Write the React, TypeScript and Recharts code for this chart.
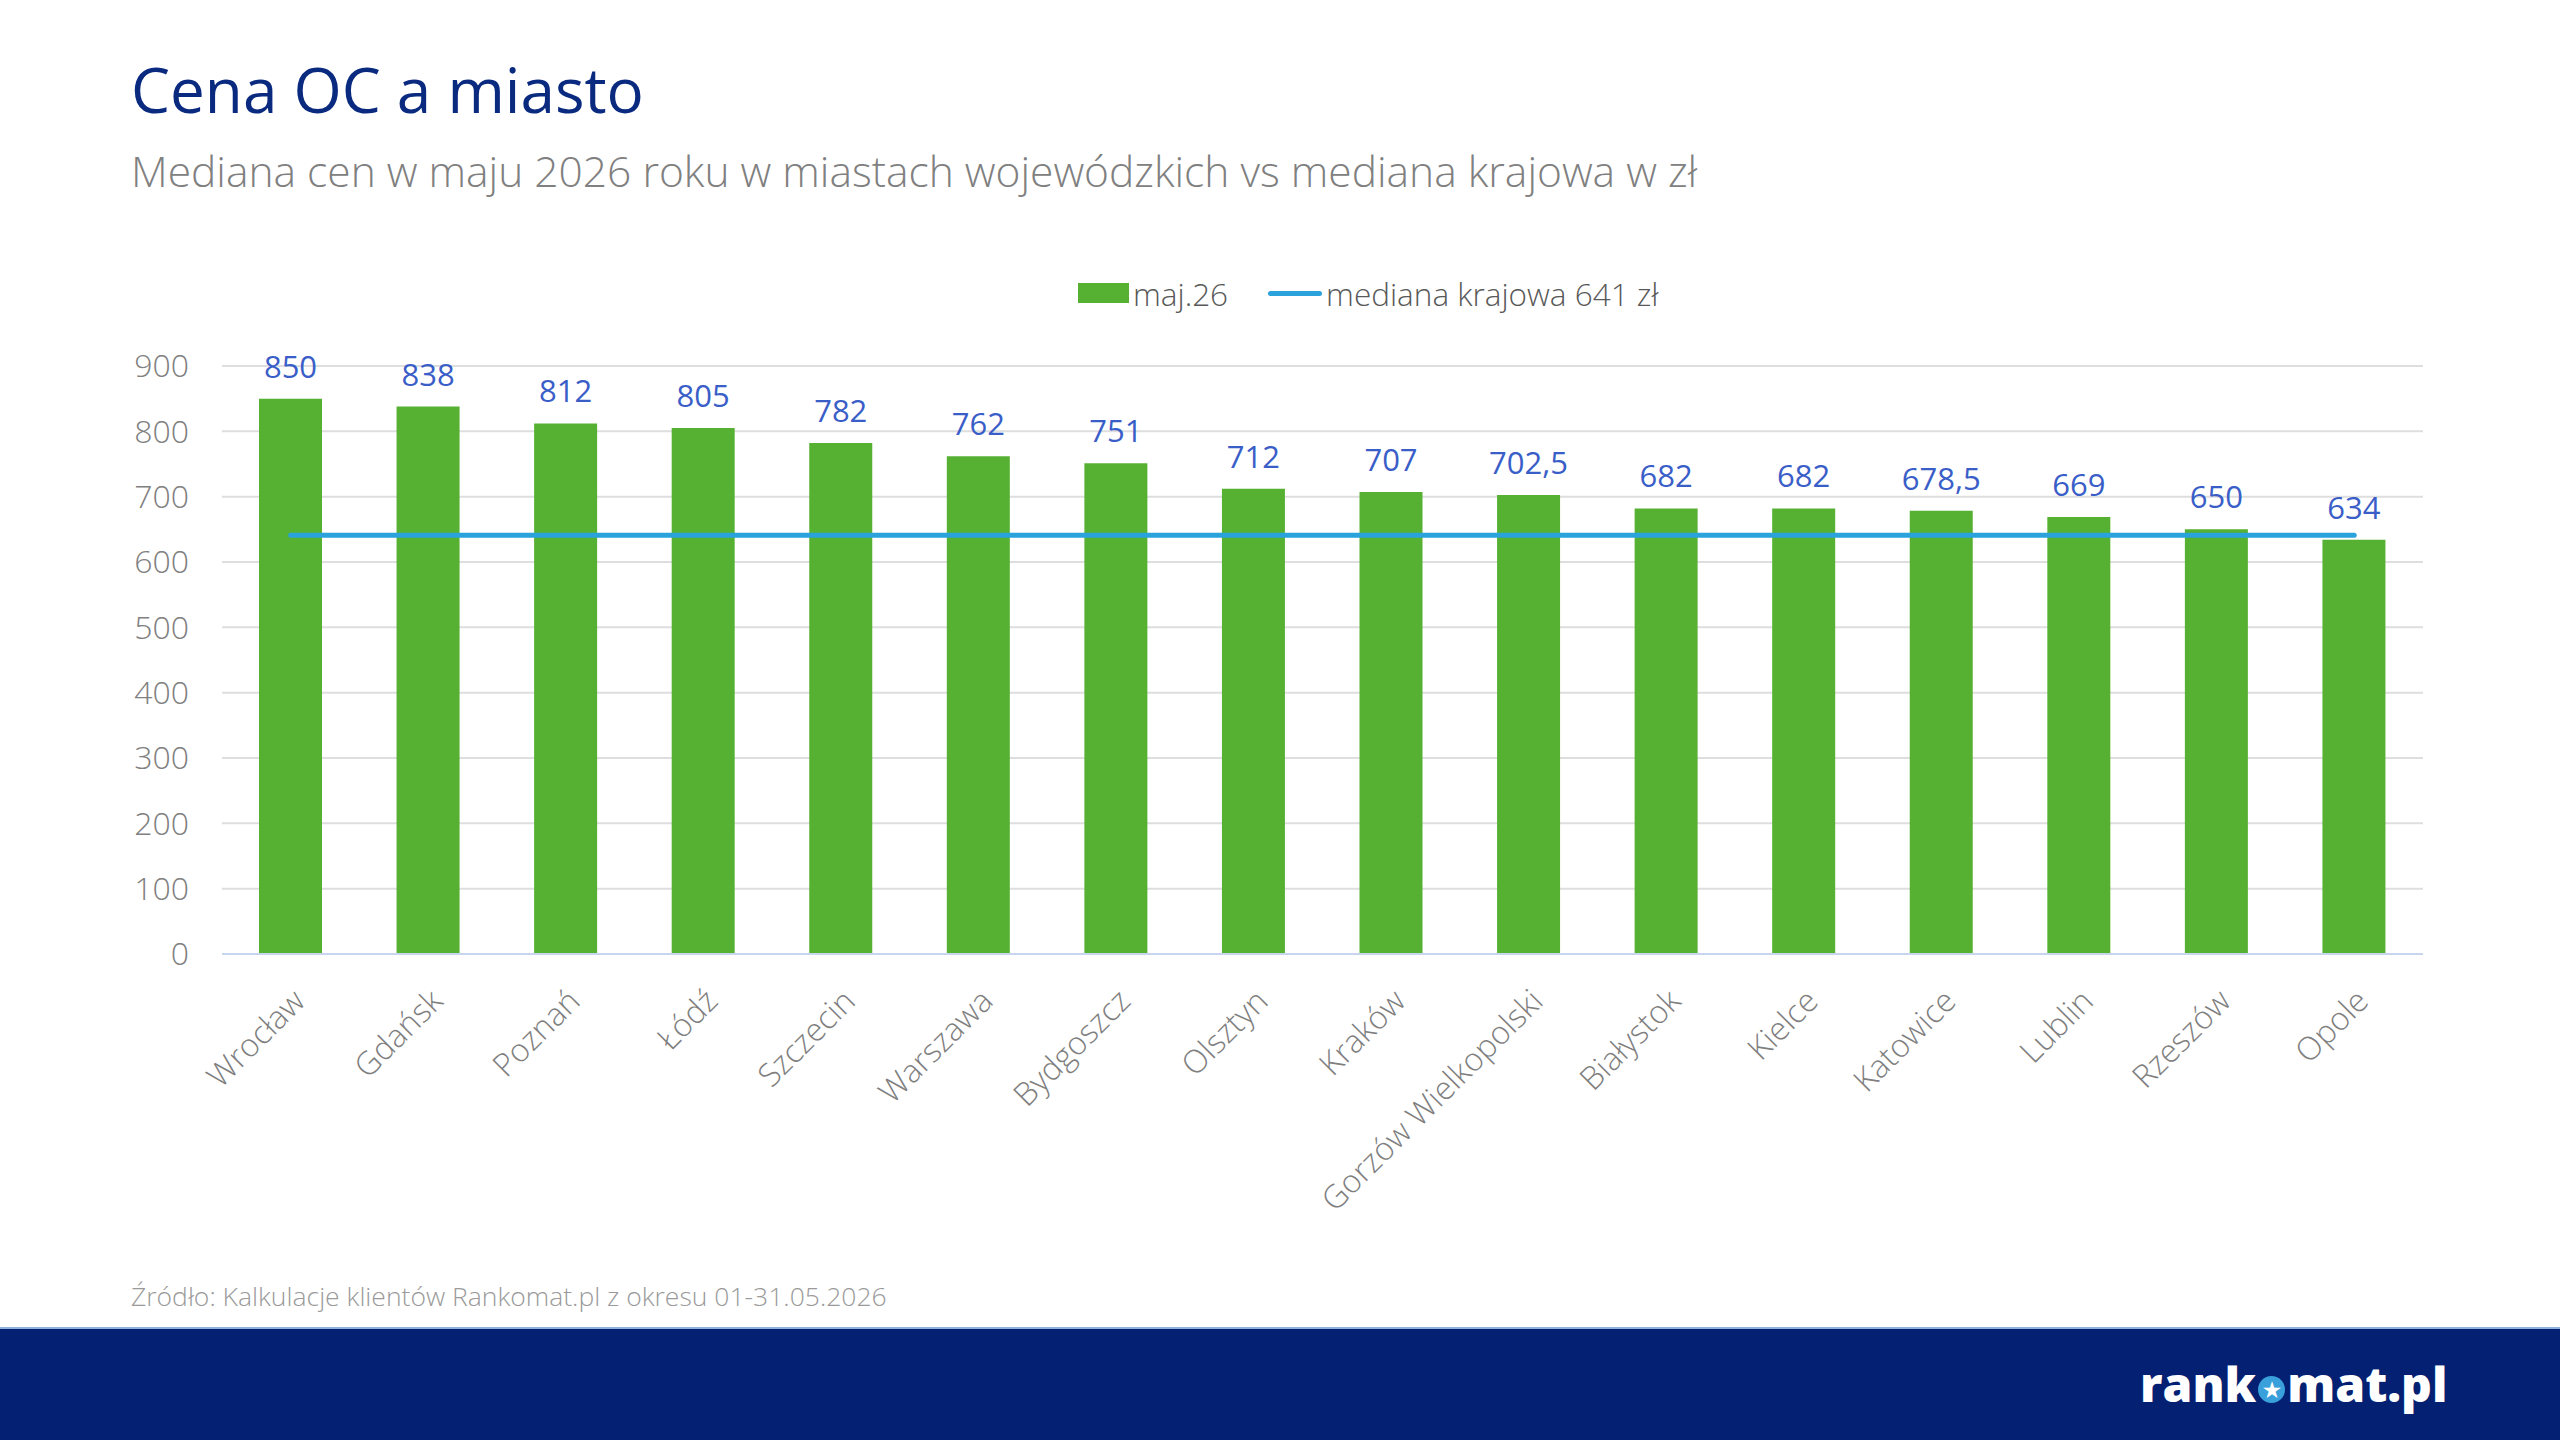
import { ComposedChart, Bar, Line, XAxis, YAxis, CartesianGrid, Legend, LabelList } from "recharts";

const cities = [
  "Wrocław",
  "Gdańsk",
  "Poznań",
  "Łódź",
  "Szczecin",
  "Warszawa",
  "Bydgoszcz",
  "Olsztyn",
  "Kraków",
  "Gorzów Wielkopolski",
  "Białystok",
  "Kielce",
  "Katowice",
  "Lublin",
  "Rzeszów",
  "Opole",
];
const prices = [850, 838, 812, 805, 782, 762, 751, 712, 707, 702.5, 682, 682, 678.5, 669, 650, 634];
const nationalMedian = 641;
const yTicks = [0, 100, 200, 300, 400, 500, 600, 700, 800, 900];
const barName = "maj.26";
const lineName = "mediana krajowa 641 zł";

const data = cities.map((city, i) => ({ city, value: prices[i], mediana: nationalMedian }));

// polish decimal comma for the labels
const fmt = (v: number | string) => String(v).replace(".", ",");

const LegendContent = (props: any) => {
  const items = props.payload || [];
  return (
    <div style={{ display: "flex", alignItems: "center", height: 32, whiteSpace: "nowrap" }}>
      {items.map((it: any, i: number) => (
        <div key={i} style={{ display: "flex", alignItems: "center", marginRight: 40 }}>
          {it.type === "line" ? (
            <div style={{ width: 54, height: 5, borderRadius: 3, background: it.color, marginRight: 4 }} />
          ) : (
            <div style={{ width: 51, height: 20, background: it.color, marginRight: 4 }} />
          )}
          <span style={{ fontSize: 31.5, color: "#595959", fontWeight: 300 }}>{it.value}</span>
        </div>
      ))}
    </div>
  );
};

export default function App() {
  return (
    <div
      style={{
        position: "absolute",
        left: 0,
        top: 0,
        width: 2560,
        height: 1440,
        background: "#ffffff",
        fontFamily: "'Open Sans', sans-serif",
        overflow: "hidden",
      }}
    >
      <div style={{ position: "absolute", left: 131, top: 58, fontSize: 62, lineHeight: 1, color: "#0a2a80" }}>
        Cena OC a miasto
      </div>
      <div
        style={{ position: "absolute", left: 131, top: 150, fontSize: 42.5, lineHeight: 1, color: "#808080", fontWeight: 300 }}
      >
        Mediana cen w maju 2026 roku w miastach wojewódzkich vs mediana krajowa w zł
      </div>

      <ComposedChart
        width={2560}
        height={1328}
        data={data}
        margin={{ top: 366, right: 137, bottom: 124, left: 142 }}
        style={{ position: "absolute", left: 0, top: 0 }}
      >
        <CartesianGrid vertical={false} stroke="#dedede" strokeWidth={2} />
        <XAxis
          dataKey="city"
          interval={0}
          angle={-45}
          textAnchor="end"
          height={250}
          tickLine={false}
          axisLine={{ stroke: "#c7d5ef", strokeWidth: 2 }}
          tick={{ fill: "#7f7f7f", fontSize: 32, fontWeight: 300 }}
          tickMargin={27}
        />
        <YAxis
          width={80}
          domain={[0, 900]}
          ticks={yTicks}
          interval={0}
          tickLine={false}
          axisLine={false}
          tick={{ fill: "#808080", fontSize: 32, fontWeight: 300 }}
          tickMargin={27}
        />
        <Legend
          verticalAlign="middle"
          align="center"
          layout="horizontal"
          content={LegendContent}
          wrapperStyle={{ top: 277, left: 1078, width: 800 }}
        />
        <Bar dataKey="value" name={barName} fill="#56b132" barSize={63} legendType="rect" isAnimationActive={false}>
          <LabelList dataKey="value" position="top" offset={21} fill="#3a5ec8" fontSize={31} formatter={fmt} />
        </Bar>
        <Line
          type="linear"
          dataKey="mediana"
          name={lineName}
          stroke="#2aa3dc"
          strokeWidth={5}
          strokeLinecap="round"
          dot={false}
          activeDot={false}
          legendType="line"
          isAnimationActive={false}
        />
      </ComposedChart>

      <div
        style={{ position: "absolute", left: 131, top: 1283, fontSize: 26.5, lineHeight: 1, color: "#9a9a9a", fontWeight: 300 }}
      >
        Źródło: Kalkulacje klientów Rankomat.pl z okresu 01-31.05.2026
      </div>

      <div
        style={{
          position: "absolute",
          left: 0,
          top: 1327,
          width: 2560,
          height: 113,
          background: "#032072",
          borderTop: "2px solid #8fb0da",
        }}
      />
      <div
        style={{
          position: "absolute",
          left: 2140,
          top: 1360,
          fontSize: 48,
          lineHeight: 1,
          fontWeight: 800,
          color: "#ffffff",
          whiteSpace: "nowrap",
        }}
      >
        rank
        <span
          style={{
            display: "inline-block",
            width: 27,
            height: 27,
            borderRadius: "50%",
            background: "#3aa0dc",
            color: "#ffffff",
            fontSize: 20,
            lineHeight: "27px",
            textAlign: "center",
            verticalAlign: "middle",
            margin: "0 2px",
          }}
        >
          ★
        </span>
        mat.pl
      </div>
    </div>
  );
}
